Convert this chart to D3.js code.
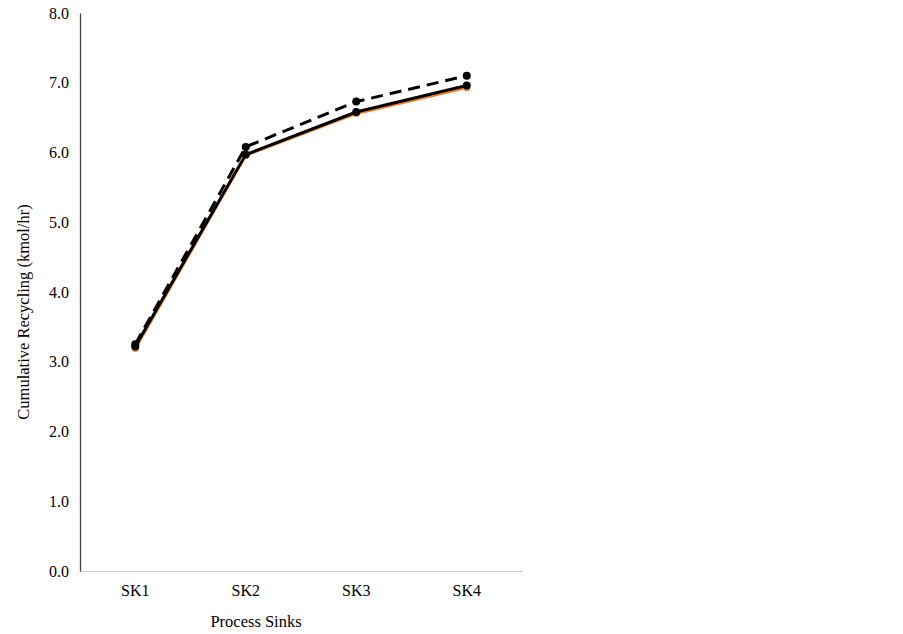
<!DOCTYPE html>
<html>
<head>
<meta charset="utf-8">
<script src="https://cdn.jsdelivr.net/npm/d3@7"></script>
<style>
  body { margin: 0; background: #fff; }
  text { font-family: "Liberation Serif", "Times New Roman", serif; fill: #000; }
</style>
</head>
<body>
<div id="chart"></div>
<script>
// Categories and series values
const sinks = ["SK1", "SK2", "SK3", "SK4"];
const orangeValues = [3.19, 5.96, 6.56, 6.93];
const solidValues = [3.22, 5.97, 6.58, 6.96];
const dashedValues = [3.25, 6.08, 6.73, 7.10];
const yTicks = [0, 1, 2, 3, 4, 5, 6, 7, 8];

const width = 903, height = 634;
const margin = { top: 13, right: 381, bottom: 63, left: 80 };

const svg = d3.select("#chart").append("svg")
  .attr("width", width)
  .attr("height", height);

const x = d3.scaleBand()
  .domain(sinks)
  .range([margin.left, width - margin.right]);

const y = d3.scaleLinear()
  .domain([0, 8])
  .range([height - margin.bottom, margin.top]);

// x axis (light grey baseline, no ticks)
const xAxis = svg.append("g")
  .attr("transform", `translate(0,${y(0)})`)
  .call(d3.axisBottom(x).tickSize(0).tickPadding(14));
xAxis.select(".domain").attr("stroke", "#c8c8c8").attr("stroke-width", 1.2);
xAxis.selectAll("text").style("font-size", "16px");

// y axis (dark line, no ticks)
const yAxis = svg.append("g")
  .attr("transform", `translate(${margin.left},0)`)
  .call(d3.axisLeft(y).tickValues(yTicks).tickFormat(d3.format(".1f")).tickSize(0).tickPadding(11));
yAxis.select(".domain").attr("stroke", "#404040").attr("stroke-width", 1.3);
yAxis.selectAll("text").style("font-size", "16px");

// axis titles
svg.append("text")
  .attr("x", 256)
  .attr("y", 627)
  .attr("text-anchor", "middle")
  .style("font-size", "16.5px")
  .text("Process Sinks");

svg.append("text")
  .attr("transform", "translate(29,312) rotate(-90)")
  .attr("text-anchor", "middle")
  .style("font-size", "16.5px")
  .text("Cumulative Recycling (kmol/hr)");

const cx = d => x(d) + x.bandwidth() / 2;
const line = d3.line()
  .x((d, i) => cx(sinks[i]))
  .y(d => y(d));

const series = [
  { values: orangeValues, color: "#f4842a", dash: null, width: 3, r: 3.5 },
  { values: solidValues, color: "#000", dash: null, width: 3, r: 4 },
  { values: dashedValues, color: "#000", dash: "12,7", width: 3, r: 4 }
];

series.forEach(s => {
  const g = svg.append("g");
  g.append("path")
    .datum(s.values)
    .attr("d", line)
    .attr("fill", "none")
    .attr("stroke", s.color)
    .attr("stroke-width", s.width)
    .attr("stroke-dasharray", s.dash);
  g.selectAll("circle")
    .data(s.values)
    .enter()
    .append("circle")
    .attr("cx", (d, i) => cx(sinks[i]))
    .attr("cy", d => y(d))
    .attr("r", s.r)
    .attr("fill", s.color);
});
</script>
</body>
</html>
